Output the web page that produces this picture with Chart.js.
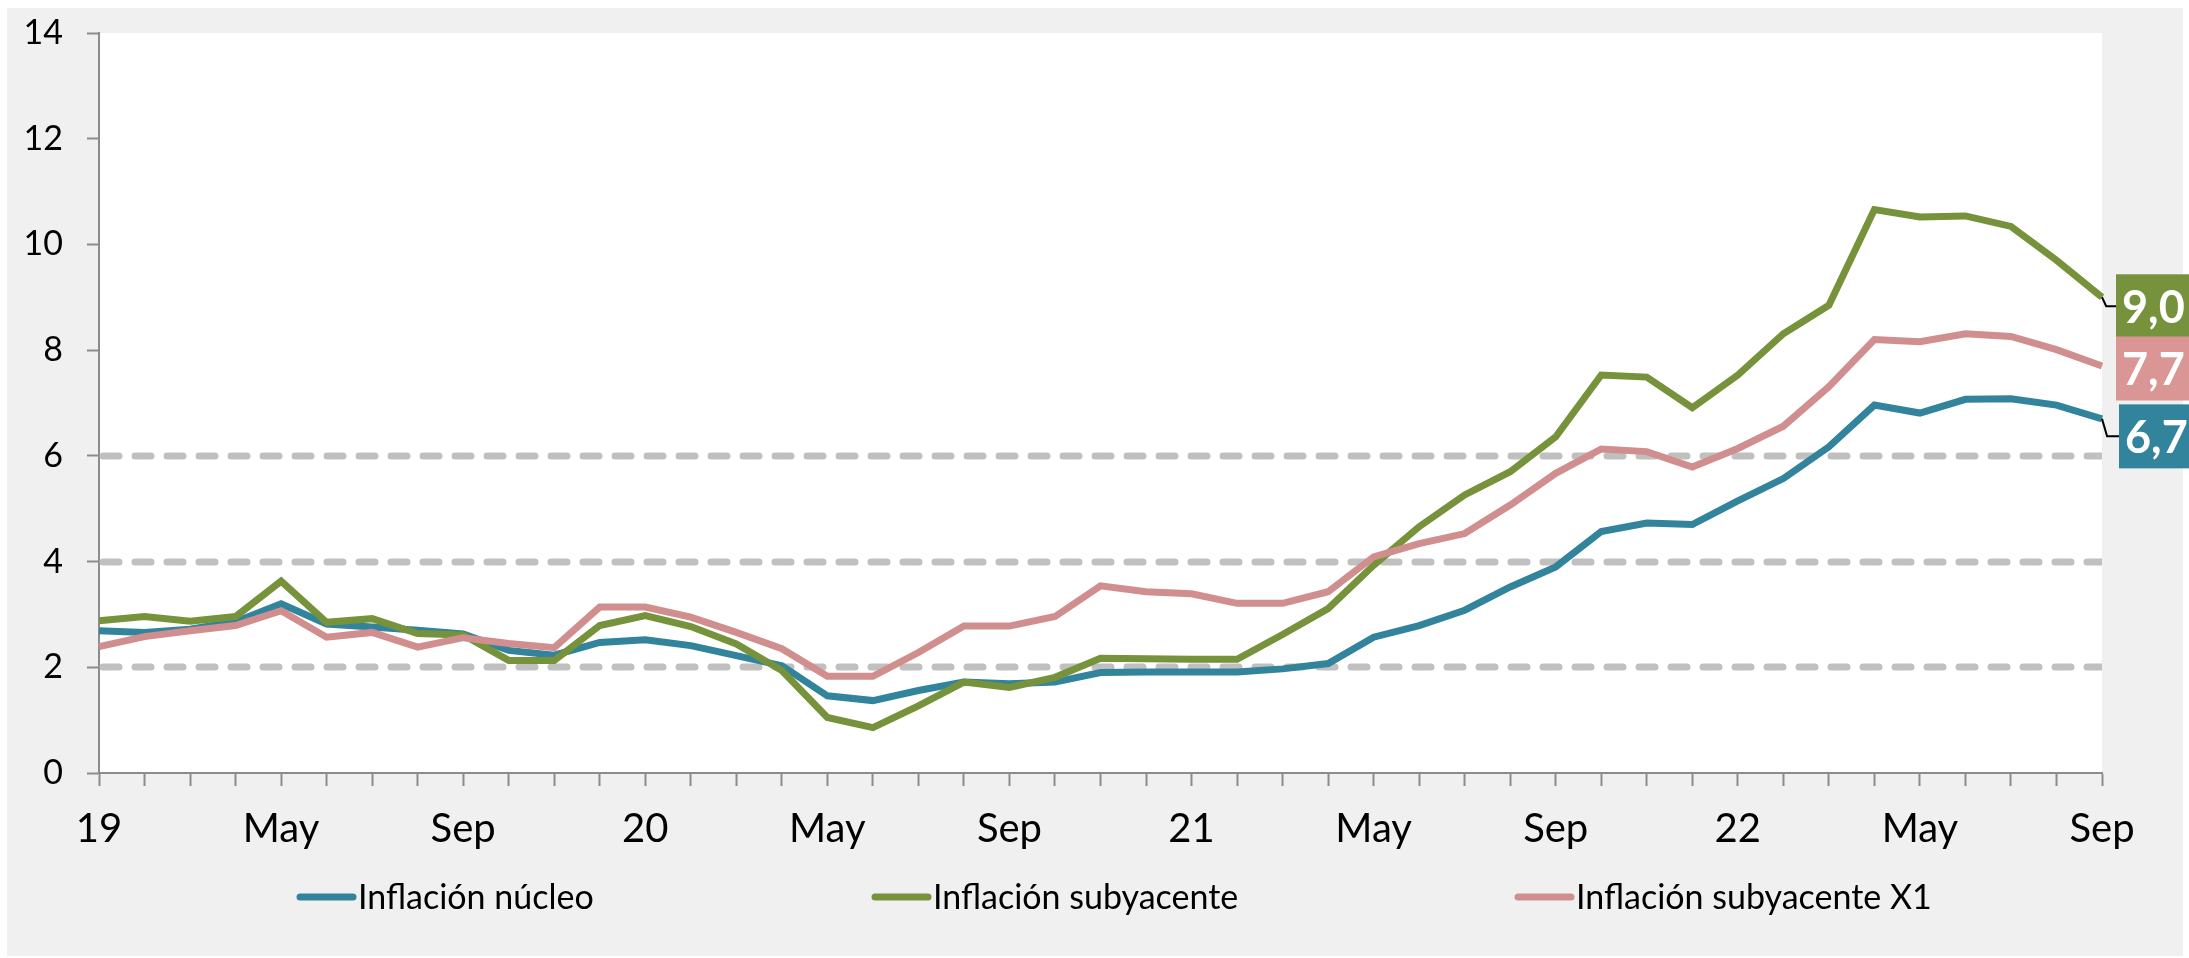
<!DOCTYPE html>
<html>
<head>
<meta charset="utf-8">
<script src="https://cdn.jsdelivr.net/npm/chart.js@4/dist/chart.umd.min.js"></script>
<style>
html,body{margin:0;padding:0;background:#ffffff;overflow:hidden;}
#wrap{width:2189px;height:958px;position:relative;}
canvas{display:block;}
</style>
</head>
<body>
<div id="wrap"><canvas id="c" width="2189" height="958"></canvas></div>
<script>
// ---- DATA ----
const categories = [
  'ene-19','feb-19','mar-19','abr-19','may-19','jun-19','jul-19','ago-19','sep-19','oct-19','nov-19','dic-19',
  'ene-20','feb-20','mar-20','abr-20','may-20','jun-20','jul-20','ago-20','sep-20','oct-20','nov-20','dic-20',
  'ene-21','feb-21','mar-21','abr-21','may-21','jun-21','jul-21','ago-21','sep-21','oct-21','nov-21','dic-21',
  'ene-22','feb-22','mar-22','abr-22','may-22','jun-22','jul-22','ago-22','sep-22'
];
const xTickLabels = ['19','May','Sep','20','May','Sep','21','May','Sep','22','May','Sep'];
const xTickEvery = 4;
const seriesNames = ['Inflación núcleo','Inflación subyacente','Inflación subyacente X1'];
const nucleo = [
  2.69,2.66,2.72,2.86,3.20,2.82,2.76,2.70,2.63,2.32,2.23,2.47,
  2.52,2.41,2.22,2.03,1.46,1.37,1.56,1.72,1.69,1.72,1.90,1.91,
  1.91,1.91,1.97,2.07,2.57,2.79,3.08,3.52,3.90,4.57,4.73,4.70,
  5.15,5.57,6.17,6.96,6.81,7.07,7.08,6.96,6.70
];
const subyacente = [
  2.88,2.96,2.87,2.96,3.63,2.85,2.92,2.64,2.61,2.13,2.13,2.79,
  2.98,2.77,2.44,1.94,1.05,0.86,1.27,1.72,1.62,1.81,2.17,2.16,
  2.15,2.15,2.62,3.11,3.93,4.66,5.26,5.70,6.36,7.53,7.49,6.91,
  7.53,8.31,8.85,10.66,10.52,10.54,10.34,9.70,9.00
];
const subyacenteX1 = [
  2.39,2.58,2.69,2.79,3.07,2.57,2.66,2.38,2.56,2.45,2.37,3.14,
  3.14,2.95,2.66,2.35,1.83,1.83,2.28,2.78,2.78,2.96,3.54,3.43,
  3.39,3.21,3.21,3.43,4.09,4.34,4.53,5.07,5.67,6.13,6.08,5.79,
  6.14,6.56,7.31,8.20,8.16,8.31,8.26,8.01,7.70
];
const yMin = 0, yMax = 14, yStep = 2;
const refLines = [2, 4, 6];

// ---- STYLE ----
const colors = ['#31849b', '#76933c', '#d08e8e'];
const boxColors = ['#31849b', '#76923c', '#d99694'];
const FONT = 'Lato, "Open Sans", sans-serif';

const bgPlugin = {
  id: 'bg',
  beforeDraw(chart) {
    const {ctx, chartArea: a} = chart;
    ctx.save();
    ctx.fillStyle = '#ffffff';
    ctx.fillRect(0, 0, chart.width, chart.height);
    ctx.fillStyle = '#f0f0f0';
    ctx.fillRect(7, 8, 2176, 948);
    ctx.fillStyle = '#ffffff';
    ctx.fillRect(a.left, a.top, a.right - a.left, a.bottom - a.top);
    ctx.restore();
  }
};

const refLinePlugin = {
  id: 'refLines',
  beforeDatasetsDraw(chart) {
    const {ctx, chartArea: a} = chart;
    const ys = chart.scales.y;
    ctx.save();
    ctx.beginPath();
    ctx.rect(a.left, a.top, a.right - a.left, a.bottom - a.top);
    ctx.clip();
    ctx.strokeStyle = '#c0c0c0';
    ctx.lineWidth = 7;
    ctx.lineCap = 'round';
    ctx.setLineDash([16, 16]);
    refLines.forEach(v => {
      const y = Math.round(ys.getPixelForValue(v));
      ctx.beginPath();
      ctx.moveTo(a.left + 4, y);
      ctx.lineTo(a.right, y);
      ctx.stroke();
    });
    ctx.restore();
  }
};

const endLabelPlugin = {
  id: 'endLabels',
  afterDatasetsDraw(chart, args, opts) {
    const {ctx, chartArea: a} = chart;
    const ys = chart.scales.y;
    const xs = chart.scales.x;
    ctx.save();
    chart.data.datasets.forEach((ds, i) => {
      const n = ds.data.length - 1;
      const v = ds.data[n];
      const px = xs.getPixelForValue(n);
      const py = ys.getPixelForValue(v);
      const yc = py + opts.dy[i];
      const bx = a.right + opts.dx[i];
      const h = 64;
      ctx.fillStyle = boxColors[i];
      ctx.fillRect(bx, yc - h / 2, chart.width - bx, h);
      if (Math.abs(opts.dy[i]) > 5) {
        ctx.strokeStyle = '#000';
        ctx.lineWidth = 2;
        ctx.beginPath();
        ctx.moveTo(px, py);
        ctx.lineTo(px + (bx - px) * 0.3, yc);
        ctx.lineTo(bx, yc);
        ctx.stroke();
      }
      ctx.fillStyle = '#ffffff';
      ctx.font = 'bold 45px ' + FONT;
      ctx.textAlign = 'left';
      ctx.textBaseline = 'middle';
      ctx.fillText(v.toFixed(1).replace('.', ','), bx + 6, yc + 2);
    });
    ctx.restore();
  }
};

const legendPlugin = {
  id: 'customLegend',
  afterDraw(chart, args, opts) {
    const {ctx} = chart;
    ctx.save();
    chart.data.datasets.forEach((ds, i) => {
      const x = opts.x[i];
      const y = opts.y;
      ctx.strokeStyle = ds.borderColor;
      ctx.lineWidth = 7;
      ctx.lineCap = 'round';
      ctx.beginPath();
      ctx.moveTo(x + 3, y);
      ctx.lineTo(x + 56, y);
      ctx.stroke();
      ctx.fillStyle = '#000';
      ctx.font = '34px ' + FONT;
      ctx.textAlign = 'left';
      ctx.textBaseline = 'middle';
      ctx.fillText(ds.label, x + 61, y + 1);
    });
    ctx.restore();
  }
};

const seriesData = [nucleo, subyacente, subyacenteX1];
const drawOrder = [3, 2, 1];

new Chart(document.getElementById('c'), {
  type: 'line',
  data: {
    labels: categories,
    datasets: seriesData.map((d, i) => ({
      label: seriesNames[i],
      data: d,
      borderColor: colors[i],
      backgroundColor: colors[i],
      borderWidth: 7,
      pointRadius: 0,
      pointHoverRadius: 0,
      tension: 0,
      fill: false,
      order: drawOrder[i]
    }))
  },
  options: {
    responsive: false,
    animation: false,
    devicePixelRatio: 1,
    layout: {padding: {left: 0, top: 33, right: 87, bottom: 0}},
    plugins: {
      legend: {display: false},
      tooltip: {enabled: false},
      endLabels: {dx: [17, 14, 14], dy: [17.5, 9, 2.5]},
      customLegend: {x: [297, 872, 1515], y: 897}
    },
    scales: {
      x: {
        type: 'category',
        offset: false,
        afterFit: s => { s.height = 185; s.paddingLeft = 0; s.paddingRight = 0; },
        grid: {display: true, drawOnChartArea: false, drawTicks: true, tickLength: 13, tickColor: '#8c8c8c', tickWidth: 2, offset: false},
        border: {display: true, color: '#8c8c8c', width: 2},
        ticks: {
          autoSkip: false, maxRotation: 0, minRotation: 0, padding: 19,
          color: '#000', font: {family: FONT, size: 40},
          callback: (val, idx) => idx % xTickEvery === 0 ? xTickLabels[idx / xTickEvery] : ''
        }
      },
      y: {
        min: yMin, max: yMax,
        afterFit: s => { s.width = 99; s.paddingTop = 0; s.paddingBottom = 0; },
        grid: {display: true, drawOnChartArea: false, drawTicks: true, tickLength: 12, tickColor: '#8c8c8c', tickWidth: 2},
        border: {display: true, color: '#8c8c8c', width: 2},
        ticks: {stepSize: yStep, padding: 24, color: '#000', font: {family: FONT, size: 34}}
      }
    }
  },
  plugins: [bgPlugin, refLinePlugin, endLabelPlugin, legendPlugin]
});
</script>
</body>
</html>
